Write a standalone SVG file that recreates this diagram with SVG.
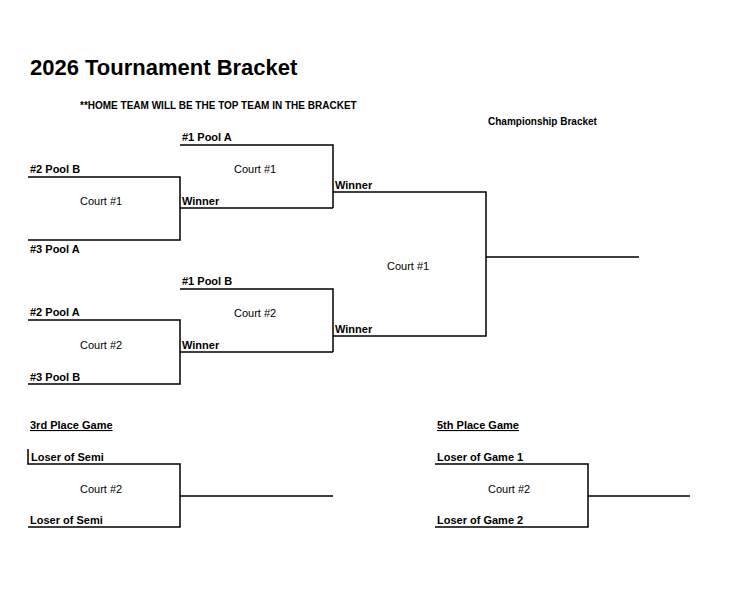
<svg xmlns="http://www.w3.org/2000/svg" width="750" height="603" viewBox="0 0 750 603">
<style>
text{font-family:"Liberation Sans","DejaVu Sans",sans-serif;font-size:11px;fill:#000}
.b{font-weight:bold}
.t{font-size:22px;font-weight:bold}
.l{fill:none;stroke:#000;stroke-width:1.5}
</style>
<rect width="750" height="603" fill="#fff"/>
<text class="t" x="30" y="75">2026 Tournament Bracket</text>
<text class="b" x="80" y="109" style="font-size:10px">**HOME TEAM WILL BE THE TOP TEAM IN THE BRACKET</text>
<text class="b" x="488" y="125" style="font-size:10px">Championship Bracket</text>
<g id="connectors">
<path class="l" d="M28 177H180V240H28M180 208H333M180 145H333V208M333 192H486V336H333M486 257H639"/>
<path class="l" d="M28 320H180V384H28M180 352H333M180 289H333V352"/>
<path class="l" d="M28 449V464H180V527H28M180 496H333"/>
<path class="l" d="M435 464H588V527H435M588 496H690"/>
</g>
<g id="qf1"><text class="b" x="30" y="173">#2 Pool B</text><text class="b" x="30" y="253">#3 Pool A</text><text x="80" y="205">Court #1</text></g>
<g id="sf1"><text class="b" x="182" y="141">#1 Pool A</text><text class="b" x="182" y="205">Winner</text><text x="234" y="173">Court #1</text></g>
<g id="qf2"><text class="b" x="30" y="316">#2 Pool A</text><text class="b" x="30" y="381">#3 Pool B</text><text x="80" y="349">Court #2</text></g>
<g id="sf2"><text class="b" x="182" y="285">#1 Pool B</text><text class="b" x="182" y="349">Winner</text><text x="234" y="317">Court #2</text></g>
<g id="final"><text class="b" x="335" y="189">Winner</text><text class="b" x="335" y="333">Winner</text><text x="387" y="270">Court #1</text></g>
<g id="third"><text class="b" x="30" y="429" text-decoration="underline">3rd Place Game</text><text class="b" x="31" y="461">Loser of Semi</text><text class="b" x="30" y="524">Loser of Semi</text><text x="80" y="493">Court #2</text></g>
<g id="fifth"><text class="b" x="437" y="429" text-decoration="underline">5th Place Game</text><text class="b" x="437" y="461">Loser of Game 1</text><text class="b" x="437" y="524">Loser of Game 2</text><text x="488" y="493">Court #2</text></g>
</svg>
